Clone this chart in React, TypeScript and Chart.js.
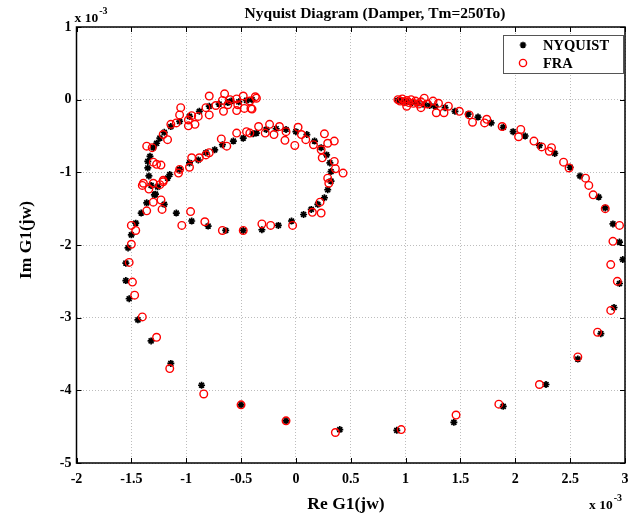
import React, { useEffect, useRef } from "react";
import { Chart, registerables } from "chart.js";

Chart.register(...registerables);

// All values in units of 1e-3
const nyquistRe = [
  0.93, 0.97, 1.01, 1.06, 1.11, 1.17, 1.22, 1.27, 1.36, 1.45, 1.57, 1.66, 1.78, 1.89, 1.98, 2.09, 2.22, 2.36, 2.5, 2.59,
  2.76, 2.82, 2.89, 2.95, 2.98, 2.95, 2.9, 2.78, 2.57, 2.28, 1.89, 1.44, 0.92, 0.4, -0.09, -0.5, -0.86, -1.14, -1.32, -1.44,
  -1.52, -1.55, -1.55, -1.53, -1.5, -1.46, -1.41, -1.36, -1.29, -1.32, -1.34, -1.35, -1.35, -1.33, -1.3, -1.27, -1.24, -1.2, -1.14, -1.06,
  -0.97, -0.88, -0.79, -0.7, -0.62, -0.59, -0.52, -0.45, -0.4,
  -1.2, -1.09, -0.95, -0.8, -0.64, -0.48, -0.31, -0.16, -0.04, 0.07, 0.14, 0.2, 0.26, 0.29, 0.32, 0.32, 0.31, 0.28, 0.23, 0.17,
  0.1, 0.0, -0.09, -0.18, -0.27, -0.36, -0.39, -0.48, -0.57, -0.67, -0.74, -0.82, -0.89, -0.97, -1.06, -1.15, -1.17, -1.26, -1.28,
];
const nyquistIm = [
  -0.01, -0.02, -0.03, -0.04, -0.05, -0.07, -0.08, -0.09, -0.11, -0.16, -0.2, -0.24, -0.32, -0.38, -0.44, -0.5, -0.63, -0.74, -0.93, -1.05,
  -1.34, -1.49, -1.71, -1.96, -2.2, -2.53, -2.86, -3.22, -3.57, -3.92, -4.22, -4.44, -4.55, -4.54, -4.42, -4.2, -3.93, -3.63, -3.32, -3.03,
  -2.74, -2.49, -2.25, -2.04, -1.86, -1.7, -1.56, -1.42, -1.31, -1.18, -1.05, -0.94, -0.85, -0.78, -0.66, -0.6, -0.53, -0.45, -0.37, -0.3,
  -0.23, -0.16, -0.09, -0.06, -0.04, -0.02, -0.03, -0.01, 0.0,
  -1.44, -1.56, -1.67, -1.74, -1.8, -1.8, -1.79, -1.73, -1.67, -1.58, -1.51, -1.44, -1.35, -1.24, -1.12, -0.99, -0.87, -0.76, -0.66, -0.57,
  -0.48, -0.44, -0.41, -0.4, -0.41, -0.46, -0.47, -0.53, -0.57, -0.62, -0.69, -0.73, -0.83, -0.87, -0.96, -1.03, -1.08, -1.2, -1.3,
];

const fraRe = [
  0.93, 0.95, 0.97, 0.99, 1.01, 1.03, 1.05, 1.07, 1.09, 1.12, 1.14, 1.17, 1.14, 1.01, 1.2, 1.25, 1.3, 1.28, 1.35, 1.39,
  1.49, 1.58, 1.61, 1.72, 1.74, 1.88, 2.03, 2.05, 2.17, 2.24, 2.31, 2.33, 2.44, 2.49, 2.64, 2.67, 2.71, 2.82, 2.95, 2.89,
  2.87, 2.93, 2.87, 2.75, 2.57, 2.22, 1.85, 1.46, 0.96, 0.36, -0.09, -0.5, -0.84, -1.15, -1.27, -1.4, -1.47, -1.49, -1.52, -1.5,
  -1.5, -1.46,
  -1.36, -1.3, -1.23, -1.22, -1.4, -1.34, -1.3, -1.24, -1.21, -1.07,
  -1.04, -0.96, -0.83, -0.67, -0.48, -0.31, -0.23, -0.03, 0.15, 0.23, 0.22, 0.3, 0.29, 0.43, 0.36, 0.35, 0.24, 0.23, 0.35, 0.29,
  0.26, 0.16, 0.09, 0.05, 0.02, -0.01, -0.09, -0.1, -0.15, -0.2, -0.24, -0.28, -0.34, -0.42, -0.45, -0.54, -0.63, -0.68, -0.79, -0.82,
  -0.88, -0.95, -0.97, -1.06,
  -1.39, -1.21, -1.23, -1.27, -1.3, -1.36, -1.31, -1.21, -1.17, -1.14, -1.09, -1.05, -1.06, -0.98, -0.98, -0.92, -0.89, -0.95, -0.82, -0.79,
  -0.79, -0.73, -0.65, -0.67, -0.62, -0.66, -0.6, -0.54, -0.53, -0.54, -0.48, -0.47, -0.42, -0.41, -0.4, -0.36, -0.37,
];
const fraIm = [
  0.0, -0.02, 0.01, -0.03, -0.01, -0.04, 0.0, -0.05, -0.02, -0.06, -0.03, 0.02, -0.11, -0.09, -0.06, -0.02, -0.05, -0.18, -0.18, -0.09,
  -0.16, -0.21, -0.31, -0.32, -0.27, -0.37, -0.51, -0.41, -0.57, -0.65, -0.71, -0.66, -0.86, -0.94, -1.08, -1.18, -1.31, -1.5, -1.73, -1.95,
  -2.27, -2.5, -2.9, -3.2, -3.54, -3.92, -4.19, -4.34, -4.54, -4.58, -4.42, -4.2, -4.05, -3.7, -3.27, -2.99, -2.69, -2.51, -2.24, -1.99,
  -1.73, -1.8,
  -1.53, -1.41, -1.38, -1.51, -1.18, -1.23, -1.15, -1.17, -1.11, -1.01,
  -1.73, -1.54, -1.68, -1.8, -1.8, -1.71, -1.73, -1.73, -1.55, -1.56, -1.41, -1.15, -1.08, -1.01, -0.95, -0.85, -0.8, -0.69, -0.57, -0.6,
  -0.47, -0.62, -0.55, -0.48, -0.38, -0.63, -0.44, -0.56, -0.37, -0.48, -0.34, -0.46, -0.37, -0.46, -0.44, -0.46, -0.64, -0.54, -0.73, -0.76,
  -0.8, -0.8, -0.93, -0.96,
  -1.15, -1.13, -0.9, -0.89, -0.86, -0.64, -0.66, -0.48, -0.55, -0.34, -0.32, -0.11, -0.21, -0.28, -0.36, -0.34, -0.23, -0.22, -0.11, 0.05,
  -0.21, -0.08, 0.08, -0.01, -0.07, -0.16, 0.0, 0.01, -0.07, -0.15, 0.05, -0.12, -0.02, -0.12, -0.13, 0.02, 0.04,
];

const xMin = -2, xMax = 3, xStep = 0.5;
const yMin = -5, yMax = 1, yStep = 1;
const titleText = "Nyquist Diagram (Damper, Tm=250To)";
const xTitle = "Re G1(jw)";
const yTitle = "Im G1(jw)";
const seriesNames = ["NYQUIST", "FRA"];

const SERIF = '"Liberation Serif", "Times New Roman", serif';

function drawExp(ctx: CanvasRenderingContext2D, x: number, y: number) {
  ctx.font = `bold 13.5px ${SERIF}`;
  ctx.textAlign = "left";
  ctx.textBaseline = "alphabetic";
  ctx.fillText("x 10", x, y);
  const w = ctx.measureText("x 10").width;
  ctx.font = `bold 10px ${SERIF}`;
  ctx.fillText("-3", x + w + 1, y - 8);
}

const decorPlugin = {
  id: "decor",
  beforeDraw(chart: any) {
    const ctx = chart.ctx;
    ctx.save();
    ctx.fillStyle = "#fff";
    ctx.fillRect(0, 0, chart.width, chart.height);
    ctx.restore();
  },
  afterDraw(chart: any) {
    const ctx: CanvasRenderingContext2D = chart.ctx;
    const { left, right, top, bottom } = chart.chartArea;
    const xs = chart.scales.x;
    const ys = chart.scales.y;
    ctx.save();
    ctx.strokeStyle = "#000";
    ctx.lineWidth = 1.5;
    ctx.strokeRect(left, top, right - left, bottom - top);
    ctx.lineWidth = 1;
    const tl = 5;
    xs.ticks.forEach((t: any) => {
      const px = Math.round(xs.getPixelForValue(t.value)) + 0.5;
      ctx.beginPath();
      ctx.moveTo(px, bottom);
      ctx.lineTo(px, bottom - tl);
      ctx.moveTo(px, top);
      ctx.lineTo(px, top + tl);
      ctx.stroke();
    });
    ys.ticks.forEach((t: any) => {
      const py = Math.round(ys.getPixelForValue(t.value)) + 0.5;
      ctx.beginPath();
      ctx.moveTo(left, py);
      ctx.lineTo(left + tl, py);
      ctx.moveTo(right, py);
      ctx.lineTo(right - tl, py);
      ctx.stroke();
    });

    ctx.fillStyle = "#000";
    // title
    ctx.font = `bold 15.5px ${SERIF}`;
    ctx.textAlign = "center";
    ctx.textBaseline = "middle";
    ctx.fillText(titleText, 375, 13.5);
    // axis titles
    ctx.font = `bold 17.5px ${SERIF}`;
    ctx.fillText(xTitle, 346, 504);
    ctx.save();
    ctx.translate(26, 240);
    ctx.rotate(-Math.PI / 2);
    ctx.fillText(yTitle, 0, 0);
    ctx.restore();
    // exponents
    drawExp(ctx, 74.5, 22);
    drawExp(ctx, 589, 509);

    // legend
    const lx = 503, ly = 35, lw = 120, lh = 38;
    ctx.fillStyle = "#fff";
    ctx.fillRect(lx, ly, lw, lh);
    ctx.strokeStyle = "#555";
    ctx.lineWidth = 1;
    ctx.strokeRect(lx + 0.5, ly + 0.5, lw, lh);
    const sx = 523, sy1 = 45, sy2 = 63;
    ctx.strokeStyle = "#000";
    ctx.lineWidth = 1.6;
    const r = 3.3;
    ctx.beginPath();
    for (let i = 0; i < 4; i++) {
      const a = (i * Math.PI) / 4;
      ctx.moveTo(sx - r * Math.cos(a), sy1 - r * Math.sin(a));
      ctx.lineTo(sx + r * Math.cos(a), sy1 + r * Math.sin(a));
    }
    ctx.stroke();
    ctx.strokeStyle = "#ff0000";
    ctx.lineWidth = 1.4;
    ctx.beginPath();
    ctx.arc(sx, sy2, 3.6, 0, Math.PI * 2);
    ctx.stroke();
    ctx.fillStyle = "#000";
    ctx.font = `bold 14.5px ${SERIF}`;
    ctx.textAlign = "left";
    ctx.textBaseline = "middle";
    ctx.fillText(seriesNames[0], 543, sy1 + 1);
    ctx.fillText(seriesNames[1], 543, sy2 + 1);
    ctx.restore();
  },
};

export default function App() {
  const ref = useRef<HTMLCanvasElement>(null);
  useEffect(() => {
    document.body.style.margin = "0";
    const canvas = ref.current!;
    const nyq = nyquistRe.map((x, i) => ({ x, y: nyquistIm[i] }));
    const fra = fraRe.map((x, i) => ({ x, y: fraIm[i] }));
    const fmt = (v: any) => `${+Number(v).toFixed(2)}`;
    const tickFont = { family: SERIF, size: 14, weight: "bold" };
    const chart = new Chart(canvas, {
      type: "scatter",
      data: {
        datasets: [
          {
            label: seriesNames[0],
            data: nyq,
            pointStyle: "star",
            radius: 3.5,
            borderColor: "#000",
            backgroundColor: "#000",
            borderWidth: 1.7,
            order: 1,
          },
          {
            label: seriesNames[1],
            data: fra,
            pointStyle: "circle",
            radius: 3.8,
            borderColor: "#ff0000",
            backgroundColor: "rgba(0,0,0,0)",
            borderWidth: 1.4,
            order: 0,
          },
        ],
      },
      options: {
        animation: false,
        responsive: false,
        layout: { padding: { left: 0, right: 18, top: 27, bottom: 0 } },
        plugins: { legend: { display: false }, title: { display: false }, tooltip: { enabled: false } },
        scales: {
          x: {
            type: "linear",
            min: xMin,
            max: xMax,
            ticks: { stepSize: xStep, callback: fmt, color: "#000", font: tickFont, padding: 8, maxRotation: 0 },
            grid: { color: "#bdbdbd", lineWidth: 1, drawTicks: false },
            border: { display: false, dash: [1, 2] },
            afterFit: (s: any) => { s.height = 54; },
          },
          y: {
            type: "linear",
            min: yMin,
            max: yMax,
            ticks: { stepSize: yStep, callback: fmt, color: "#000", font: tickFont, padding: 5 },
            grid: { color: "#bdbdbd", lineWidth: 1, drawTicks: false },
            border: { display: false, dash: [1, 2] },
            afterFit: (s: any) => { s.width = 76.5; },
          },
        },
      } as any,
      plugins: [decorPlugin],
    });
    return () => chart.destroy();
  }, []);
  return <canvas ref={ref} width={643} height={517} style={{ display: "block", width: 643, height: 517 }} />;
}
